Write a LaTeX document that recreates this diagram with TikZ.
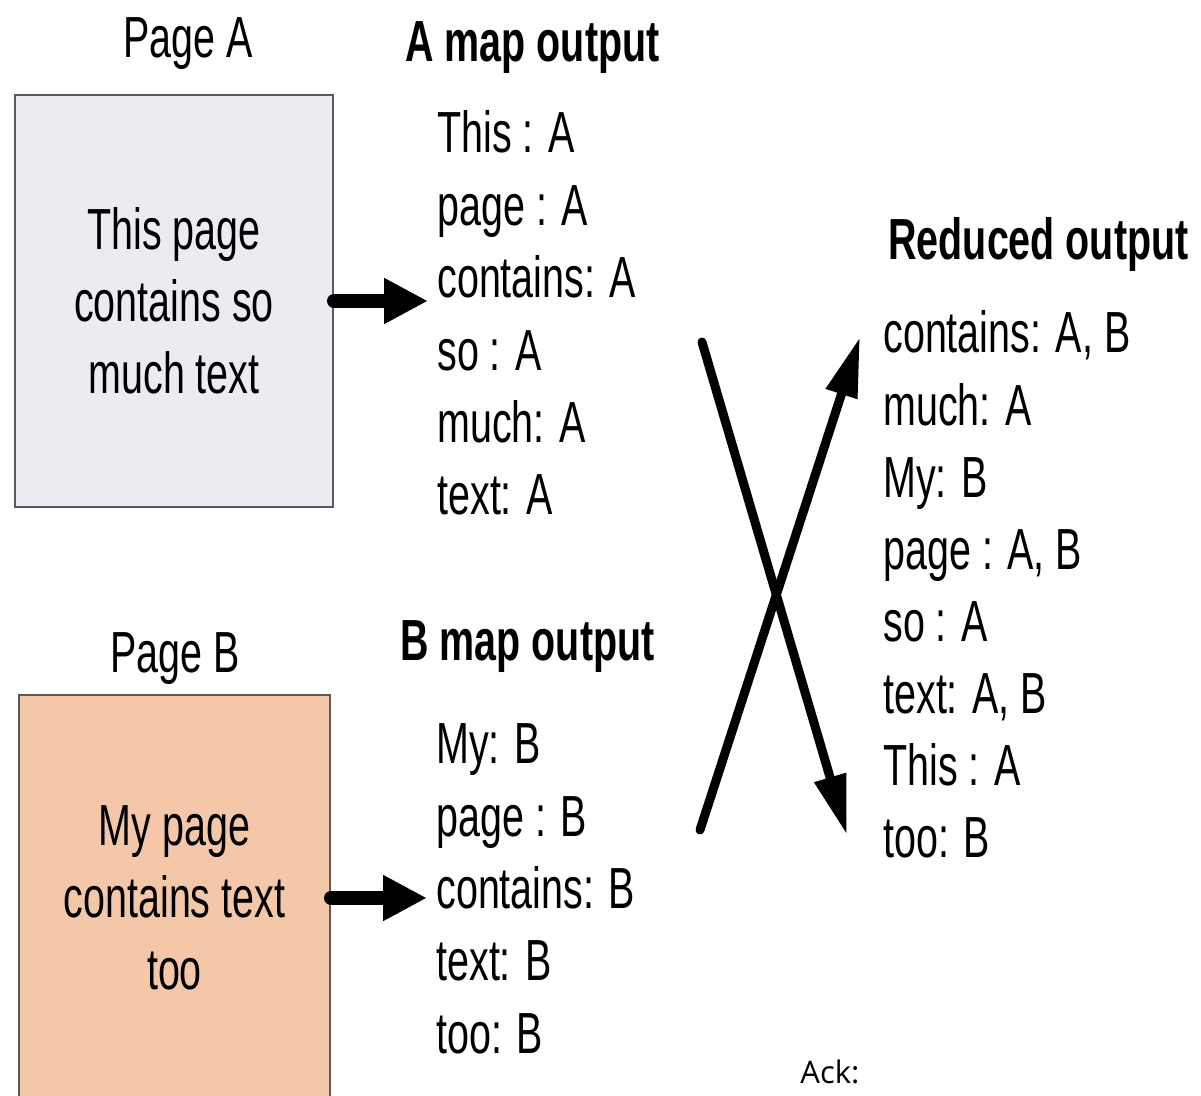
\documentclass[tikz,border=0pt]{standalone}
\usepackage{fontspec}
\setmainfont{Liberation Sans}[FakeStretch=0.68]
\newfontfamily\ackfont{Open Sans}
\usetikzlibrary{arrows.meta}

\definecolor{pagegray}{RGB}{234,236,242}
\definecolor{pagepeach}{RGB}{243,199,168}

\begin{document}
\begin{tikzpicture}[
x=0.5pt, y=-0.5pt,
font=\fontsize{29pt}{36pt}\selectfont,
page/.style={
draw=black!65,
line width=1pt,
align=center,
inner sep=0pt,
},
entry/.style={anchor=base west, inner xsep=4.5pt, inner ysep=0pt},
heading/.style={anchor=base west, inner sep=0pt, font=\fontsize{29pt}{36pt}\selectfont\bfseries},
feed/.style={line width=7pt, line cap=round, -{Triangle[length=22pt, width=21.5pt]}},
shuffle/.style={line width=4.5pt, line cap=round, -{Triangle[length=30pt, width=15.5pt]}},
]
\useasboundingbox (0,0) rectangle (1201,1096);

% input pages
\node [page, fill=pagegray, minimum width=159pt, minimum height=206pt] at (174,301) (pageA)
{This page\\contains so\\much text};
\node [page, fill=pagepeach, minimum width=155.5pt, minimum height=203pt] at (174.5,898) (pageB)
{My page\\contains text\\too};

\path[every node/.style={anchor=base, inner sep=0pt}]
(188,58) node (labelA) {Page A}
(175,673) node (labelB) {Page B}
;

% map outputs
\node [heading] at (405,62) (headA) {A map output};
\foreach \txt [count=\i] in {This : A, page : A, contains: A, so : A, much: A, text: A}
\node [entry] at (428,{153+72.4*(\i-1)}) (ma\i) {\txt};

\node [heading] at (400,661) (headB) {B map output};
\foreach \txt [count=\i] in {My: B, page : B, contains: B, text: B, too: B}
\node [entry] at (427,{764+72.25*(\i-1)}) (mb\i) {\txt};

% reduced output
\node [heading] at (888,260) (headR) {Reduced output};
\foreach \txt [count=\i] in {{contains: A, B}, much: A, My: B, {page : A, B}, so : A, {text: A, B}, This : A, too: B}
\node [entry] at (874,{353+72.1*(\i-1)}) (re\i) {\txt};

\draw [feed] (pageA.east) -- (pageA.east -| ma3.west);
\draw [feed] (pageB.east) -- (pageB.east -| mb3.west);

% crossing shuffle arrows
\path
(702,342) coordinate(sa1)
(847,835) coordinate(sa2)
(700,830) coordinate(sb1)
(860,337) coordinate(sb2)
;
\draw [shuffle] (sa1) -- (sa2);
\draw [shuffle] (sb1) -- (sb2);

\node [anchor=base west, inner sep=0pt, font=\ackfont\fontsize{15.5pt}{18pt}\selectfont] at (800,1083) (ack) {Ack:};

\end{tikzpicture}
\end{document}
